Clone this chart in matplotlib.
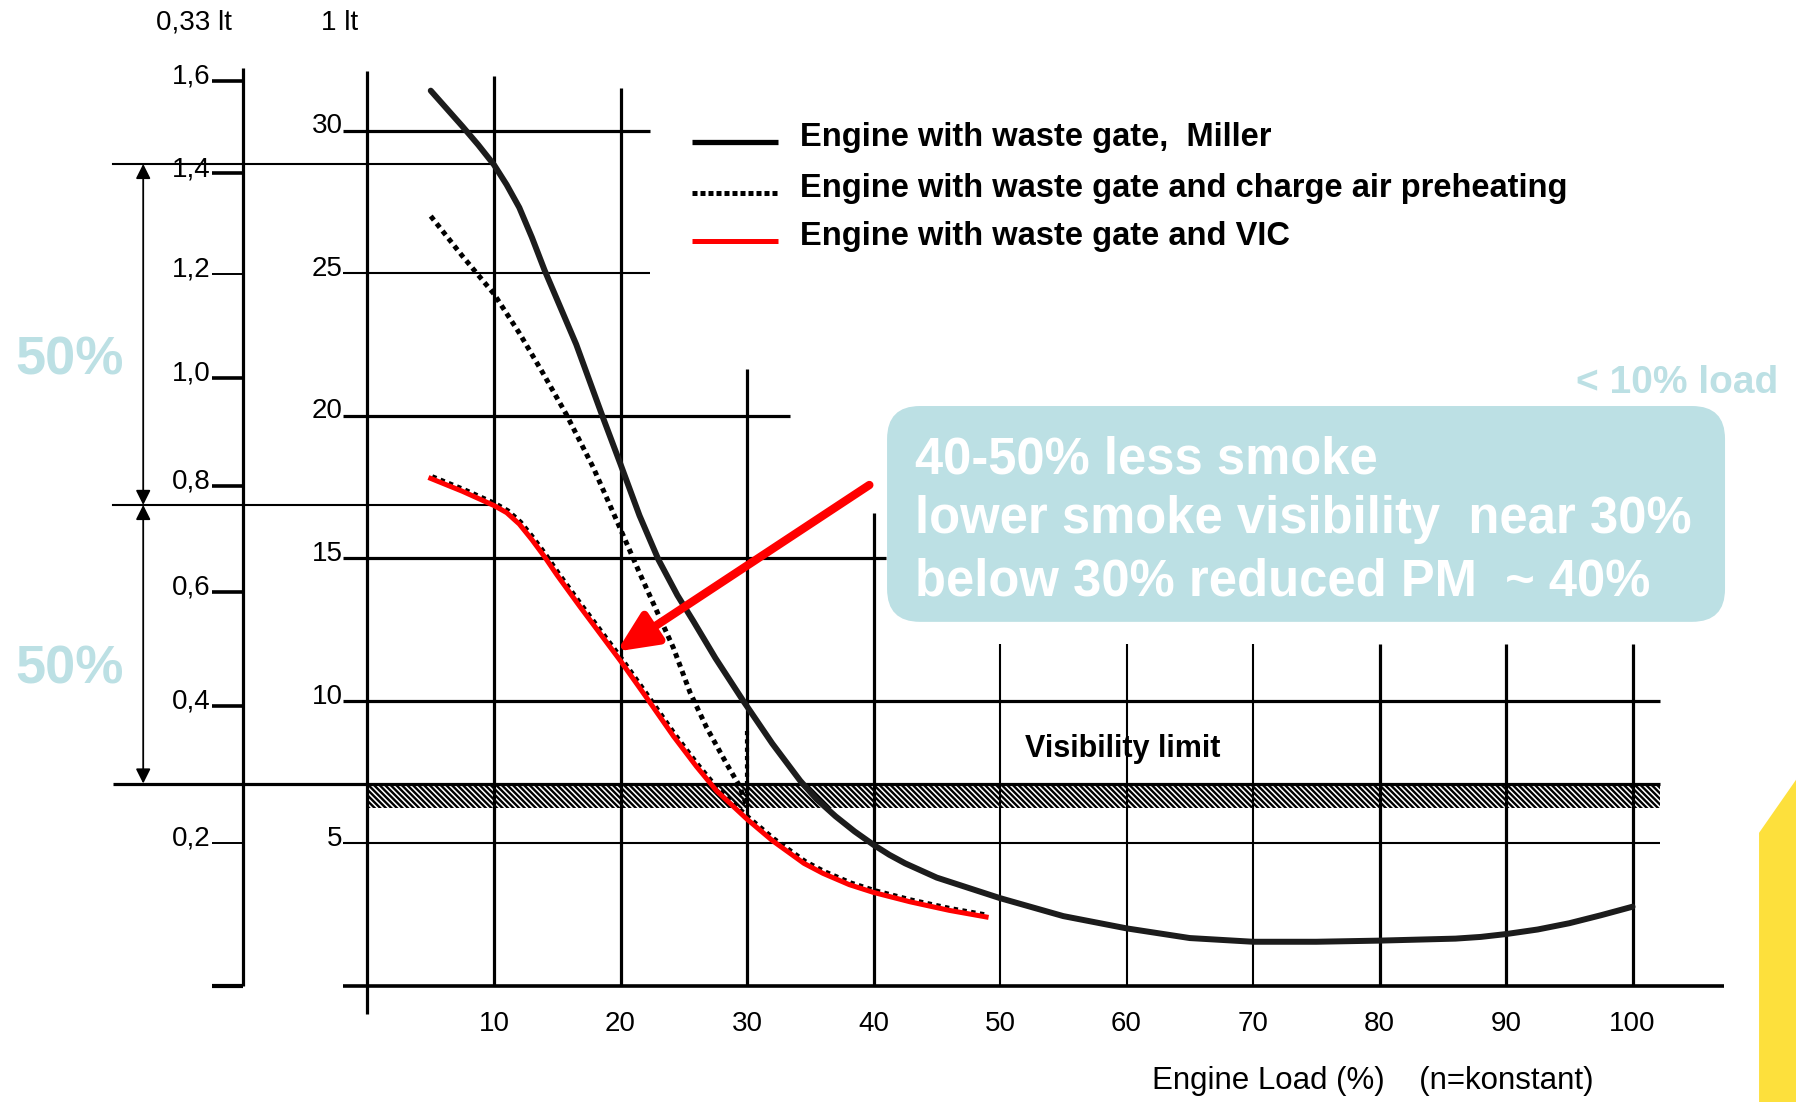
import matplotlib.pyplot as plt
from matplotlib.patches import FancyBboxPatch
from matplotlib.transforms import offset_copy

plt.rcParams['font.family'] = ['Liberation Sans', 'DejaVu Sans']
plt.rcParams['hatch.linewidth'] = 1.7

# --- values ---
load_ticks = [10, 20, 30, 40, 50, 60, 70, 80, 90, 100]
smoke_ticks = [30, 25, 20, 15, 10, 5]
# the 0,33 lt scale is non-linear: where each label sits on the 1 lt scale
bsn_labels = ['1,6', '1,4', '1,2', '1,0', '0,8', '0,6', '0,4', '0,2']
bsn_pos = [31.75, 28.5, 24.97, 21.33, 17.54, 13.81, 9.82, 5.03]

miller_x = [5, 7.5, 8.75, 10, 11, 12, 13, 14, 15.25, 16.5, 18.6, 20, 21.5, 23, 24.5, 25.75, 27.5, 29.7,
            32, 34.2, 35.5, 37, 38.5, 40, 41.25, 42.5, 45, 50, 55, 60, 65, 70, 75, 80, 86, 88, 90,
            92.5, 95, 97.5, 100]
miller_y = [31.4, 30.15, 29.5, 28.8, 28.1, 27.3, 26.25, 25.1, 23.8, 22.5, 19.95, 18.3, 16.5, 14.95, 13.7, 12.8,
            11.5, 10.0, 8.5, 7.2, 6.55, 5.95, 5.42, 4.95, 4.6, 4.3, 3.8, 3.08, 2.45, 2.02, 1.68, 1.55, 1.55,
            1.59, 1.66, 1.72, 1.82, 1.98, 2.2, 2.48, 2.78]

preheat_x = [5, 7.5, 10, 12, 13.9, 15.7, 17.84, 19.82, 21.54, 24.17, 25.5, 26.8, 28.4, 29.4, 30]
preheat_y = [27.0, 25.6, 24.27, 22.9, 21.47, 20.06, 18.19, 16.2, 14.45, 11.87, 10.29, 9.07, 7.78, 7.02, 6.3]
preheat_step_x = [30, 30]
preheat_step_y = [8.95, 6.3]

vic_x = [5, 7.5, 10, 11, 12, 13, 14, 15, 16.8, 20, 22, 24.2, 26, 27.6, 30, 32, 34.5, 36, 38.1, 40,
         42.9, 46, 48.9]
vic_y = [17.8, 17.35, 16.85, 16.6, 16.2, 15.65, 15.05, 14.4, 13.3, 11.4, 10.15, 8.75, 7.7, 6.84, 5.85, 5.1,
         4.3, 3.95, 3.55, 3.28, 2.95, 2.65, 2.42]

visibility_top = 7.1
visibility_bottom = 6.24
level_100 = 28.83   # Miller at 10 % load
level_50 = 16.87    # VIC at 10 % load

legend_labels = ['Engine with waste gate,  Miller',
                 'Engine with waste gate and charge air preheating',
                 'Engine with waste gate and VIC']
box_lines = ['40-50% less smoke',
             'lower smoke visibility  near 30%',
             'below 30% reduced PM  ~ 40%']

teal = '#bce0e4'

fig = plt.figure(figsize=(17.96, 11.02), dpi=100)
ax = fig.add_axes([0, 0, 1, 1])
ax.set_xlim(-29.05, 112.92)
ax.set_ylim(-4.07, 34.58)
ax.axis('off')

# yellow corner of the slide
ax.fill([110.0, 110.0, 112.92, 112.92], [-4.07, 5.37, 7.23, -4.07], color='#fde03c', lw=0)

# --- grid ---
v_top = [31.93, 31.49, 21.65, 16.6, 12.0, 12.0, 12.0, 12.0, 12.0, 12.0]
v_lw = [2.3, 2.3, 2.3, 2.3, 1.5, 1.5, 1.5, 2.3, 2.3, 2.3]
for v, top, lw in zip(load_ticks, v_top, v_lw):
    ax.plot([v, v], [0, top], color='k', lw=lw, solid_capstyle='butt')
    ax.text(v, -1.33, str(v), ha='center', va='center', fontsize=20)

h_end = [22.3, 22.3, 33.4, 41.0, 102.2, 102.2]
h_lw = [2.3, 1.5, 2.3, 2.3, 2.3, 1.5]
for v, end, lw in zip(smoke_ticks, h_end, h_lw):
    ax.plot([-1.9, end], [v, v], color='k', lw=lw, solid_capstyle='butt')
    ax.text(-1.95, v + 0.15, str(v), ha='right', va='center', fontsize=20)

ax.plot([0, 0], [-0.97, 32.1], color='k', lw=2.3, solid_capstyle='butt')
ax.plot([-1.9, 107.2], [0, 0], color='k', lw=2.6, solid_capstyle='butt')

# secondary scale
ax.plot([-9.86, -9.86], [0, 32.2], color='k', lw=2.3, solid_capstyle='butt')
ax.plot([-12.3, -9.86], [0, 0], color='k', lw=3.0, solid_capstyle='butt')
for lab, p in zip(bsn_labels, bsn_pos):
    lw = 1.4 if lab in ('1,2', '0,2') else 2.6
    ax.plot([-12.3, -9.86], [p, p], color='k', lw=lw, solid_capstyle='butt')
    ax.text(-12.4, p + 0.15, lab, ha='right', va='center', fontsize=20)

ax.text(-13.7, 33.78, '0,33 lt', ha='center', va='center', fontsize=20)
ax.text(-2.2, 33.78, '1 lt', ha='center', va='center', fontsize=20)

# visibility limit band
ax.fill_between([0, 102.2], visibility_bottom, visibility_top, facecolor='none',
                edgecolor='k', hatch='\\\\\\\\\\\\', linewidth=0)
ax.plot([-20.1, 102.2], [visibility_top] * 2, color='k', lw=2.3, solid_capstyle='butt')
ax.text(59.68, 8.31, 'Visibility limit', ha='center', va='center', fontsize=22, fontweight='bold')

# 50 % markers
ax.plot([-20.1, 10], [level_100] * 2, color='k', lw=1.5)
ax.plot([-20.1, 10], [level_50] * 2, color='k', lw=1.5)
for y0, y1 in [(level_50, level_100), (visibility_top, level_50)]:
    ax.annotate('', xy=(-17.73, y1), xytext=(-17.73, y0),
                arrowprops=dict(arrowstyle='<|-|>', lw=1.3, color='k', shrinkA=0, shrinkB=0,
                                mutation_scale=22))
for y in [(level_100 + level_50) / 2 - 0.9, (level_50 + visibility_top) / 2 - 0.9]:
    ax.text(-23.54, y, '50%', ha='center', va='center', fontsize=39, fontweight='bold', color=teal)

# --- curves ---
ax.plot(miller_x, miller_y, color='#1c1c1c', lw=4.3, solid_capstyle='round', solid_joinstyle='round')
ax.plot(preheat_x, preheat_y, color='k', lw=3.6, linestyle=(0, (1, 0.9)), dash_capstyle='butt')
ax.plot(preheat_step_x, preheat_step_y, color='k', lw=3.0, linestyle=(0, (1, 1)))
shadow = offset_copy(ax.transData, fig=fig, x=1.5, y=2.0, units='dots')
ax.plot(vic_x, vic_y, color='k', lw=3.2, linestyle=(0, (1, 1)), transform=shadow)
ax.plot(vic_x, vic_y, color='#ff0000', lw=3.6, solid_joinstyle='round')

# legend
leg_y = [29.59, 27.8, 26.13]
leg_base = [29.47, 27.68, 25.97]
ax.plot([25.65, 32.45], [leg_y[0]] * 2, color='k', lw=3.8, solid_capstyle='butt')
ax.plot([25.65, 32.45], [leg_y[1]] * 2, color='k', lw=3.6, linestyle=(0, (1, 0.6)))
ax.plot([25.65, 32.45], [leg_y[2]] * 2, color='#ff0000', lw=3.6, solid_capstyle='butt')
for lab, yb in zip(legend_labels, leg_base):
    ax.text(34.19, yb, lab, va='baseline', fontsize=23.5, fontweight='bold')

# callout
box = FancyBboxPatch((41.07, 12.77), 66.24, 7.57, boxstyle='round,pad=0,rounding_size=2.6',
                     mutation_aspect=0.4437, fc=teal, ec='none')
ax.add_patch(box)
for line, yb in zip(box_lines, [17.99, 15.89, 13.71]):
    ax.text(43.3, yb, line, color='white', fontsize=36.5, fontweight='bold', va='baseline')
ax.text(111.5, 20.8, '< 10% load', ha='right', va='baseline', color=teal,
        fontsize=28, fontweight='bold')

ax.annotate('', xy=(19.7, 11.73), xytext=(39.67, 17.57),
            arrowprops=dict(arrowstyle='-|>,head_length=1.2,head_width=0.55', lw=6,
                            color='#ff0000', mutation_scale=20, shrinkA=0, shrinkB=0))

ax.text(79.46, -3.35, 'Engine Load (%)    (n=konstant)', ha='center', va='center', fontsize=22.5)

fig.savefig('out.png', dpi=100)
